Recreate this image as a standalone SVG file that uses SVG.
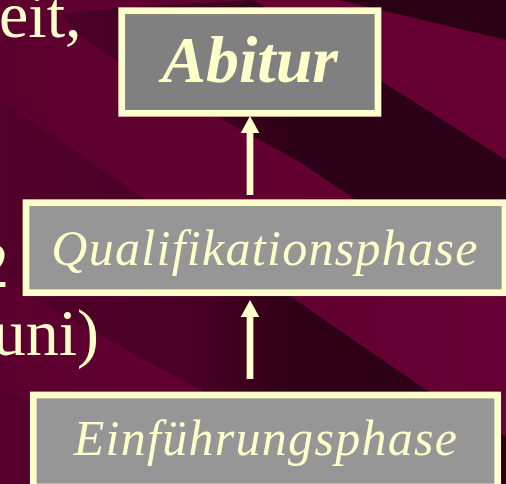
<svg xmlns="http://www.w3.org/2000/svg" width="506" height="484" viewBox="0 0 506 484">
<style>
.box{stroke:#ffffcc;stroke-width:6.7}
.lbl{fill:#ffffcc;font-family:"Liberation Serif","Times New Roman",serif;font-style:italic;text-anchor:middle}
.side{fill:#ffffcc;font-family:"Liberation Serif","Times New Roman",serif;font-size:66px}
.conn{stroke:#ffffcc;stroke-width:6.7;fill:none;marker-end:url(#ah)}
</style>
<defs>
<linearGradient id="gBase" gradientUnits="userSpaceOnUse" x1="0" y1="0" x2="506" y2="0">
<stop offset="0" stop-color="#5c002f"/><stop offset="1" stop-color="#660034"/>
</linearGradient>
<linearGradient id="gCE" gradientUnits="userSpaceOnUse" x1="60" y1="0" x2="300" y2="0">
<stop offset="0" stop-color="#4c0026"/><stop offset="0.7" stop-color="#3c001e"/><stop offset="1" stop-color="#2c0016"/>
</linearGradient>
<linearGradient id="gAB" gradientUnits="userSpaceOnUse" x1="0" y1="0" x2="506" y2="0">
<stop offset="0" stop-color="#53002a"/><stop offset="0.4" stop-color="#470023"/><stop offset="0.59" stop-color="#2e0016"/><stop offset="1" stop-color="#2a0014"/>
</linearGradient>
<marker id="ah" markerUnits="userSpaceOnUse" markerWidth="18" markerHeight="19" refX="0" refY="9.3" orient="auto">
<path d="M0,0 L17,9.3 L0,18.6 z" fill="#ffffcc"/>
</marker>
</defs>
<g id="background">
<rect x="0" y="0" width="506" height="484" fill="url(#gBase)"/>
<polygon points="338,0 506,0 506,40" fill="#2a0014"/>
<polygon points="253,0 338,0 506,40 506,160" fill="#660033"/>
<polygon points="60,14 118,8 253,0 506,160 506,290 356,200 300,162 217,117 118,62 77,33" fill="url(#gCE)"/>
<polygon points="0,100 147,200 290,296 426,390 506,437 506,484 371,484 200,390 0,280" fill="url(#gAB)"/>
<polygon points="0,389 221,484 0,484" fill="#54002a"/>
</g>
<g id="side-text">
<text class="side" x="-1" y="37" font-size="70">eit,</text>
<text class="side" x="-24" y="287">2</text>
<text class="side" x="99" y="355" text-anchor="end">uni)</text>
</g>
<g id="connectors">
<line class="conn" x1="250" y1="195" x2="250" y2="133"/>
<line class="conn" x1="250" y1="379" x2="250" y2="317"/>
</g>
<g id="abitur">
<rect class="box" x="121.7" y="10.7" width="256.3" height="102.6" fill="#808080"/>
<text class="lbl" x="250" y="82" font-size="66" font-weight="bold">Abitur</text>
</g>
<g id="qualifikationsphase">
<rect class="box" x="26" y="202.7" width="479" height="90" fill="#969696"/>
<text class="lbl" x="265" y="265" font-size="50" letter-spacing="1.3">Qualifikationsphase</text>
</g>
<g id="einfuehrungsphase">
<rect class="box" x="33.3" y="395" width="464.4" height="92" fill="#969696"/>
<text class="lbl" x="266" y="455" font-size="50" letter-spacing="1.3">Einführungsphase</text>
</g>
</svg>
